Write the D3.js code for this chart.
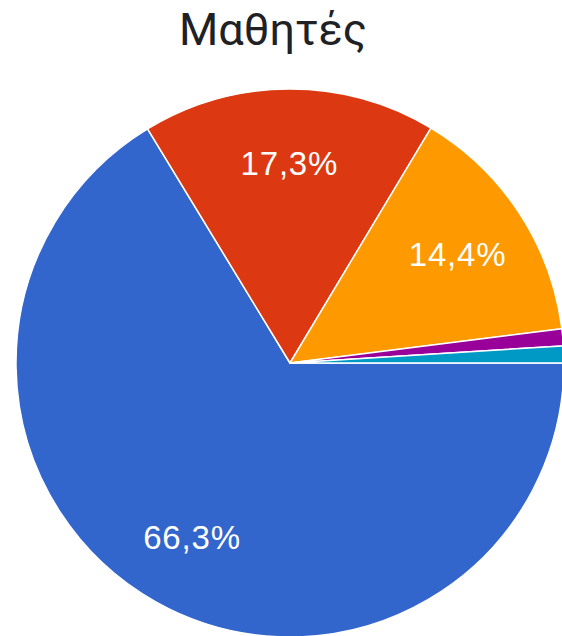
<!DOCTYPE html>
<html><head><meta charset="utf-8">
<script src="https://cdn.jsdelivr.net/npm/d3@7"></script>
<style>html,body{margin:0;padding:0;background:#fff;overflow:hidden}</style>
</head><body>
<svg id="c" width="562" height="636"></svg>
<script>
const title = "Μαθητές";
const categories = ["A", "B", "C", "D", "E"];
const values = [66.3, 17.3, 14.4, 1.0, 1.0];
const colors = ["#3366cc", "#dc3912", "#ff9900", "#990099", "#0099c6"];

const svg = d3.select("#c");
const cx = 290, cy = 363, r = 274;
const data = categories.map((c, i) => ({c, v: values[i], col: colors[i]}));
const pie = d3.pie().value(d => d.v).sort(null)
  .startAngle(Math.PI / 2).endAngle(Math.PI / 2 + 2 * Math.PI);
const arcs = pie(data);
const arc = d3.arc().innerRadius(0).outerRadius(r);
const labelArc = d3.arc().innerRadius(r * 0.73).outerRadius(r * 0.73);
const g = svg.append("g").attr("transform", `translate(${cx},${cy})`);
g.selectAll("path").data(arcs).join("path")
  .attr("d", arc).attr("fill", d => d.data.col)
  .attr("stroke", "#fff").attr("stroke-width", 1.5).attr("stroke-linejoin", "round");
g.selectAll("text").data(arcs.filter(d => d.data.v >= 5)).join("text")
  .attr("transform", d => `translate(${labelArc.centroid(d)})`)
  .attr("text-anchor", "middle").attr("dy", "0.36em")
  .attr("fill", "#fff").attr("font-family", "Liberation Sans, Arial, sans-serif")
  .attr("font-size", 33).attr("letter-spacing", 0.8)
  .text(d => d.data.v.toFixed(1).replace(".", ",") + "%");
svg.append("text").attr("x", 273).attr("y", 45).attr("text-anchor", "middle")
  .attr("font-family", "Roboto, sans-serif").attr("font-size", 45).attr("fill", "#202124")
  .text(title);
</script>
</body></html>
